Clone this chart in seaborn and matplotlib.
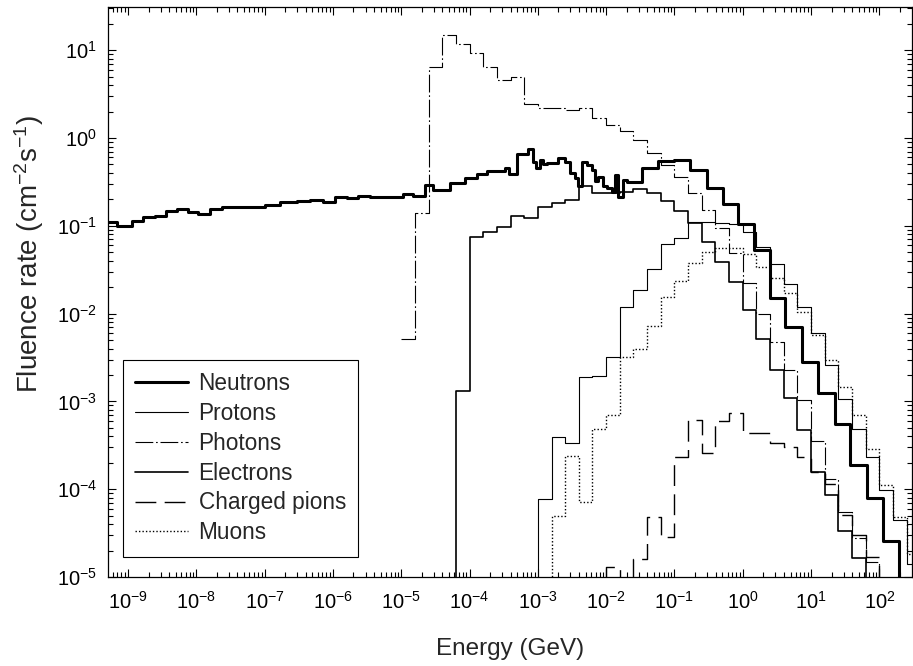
import numpy as np
import matplotlib
matplotlib.use("Agg")
import matplotlib.pyplot as plt
from matplotlib.ticker import LogLocator, LogFormatterSciNotation, NullFormatter
import seaborn as sns

# Neutrons have their own (uneven) bins, edges given as log10(E/GeV)
neutron_edges_exp = [-9.35, -9.16, -8.94, -8.78, -8.61, -8.44, -8.28, -8.12, -7.98, -7.80,
                     -7.62, -7.40, -6.99, -6.78, -6.53, -6.34, -6.15, -5.97, -5.79, -5.63,
                     -5.46, -4.97, -4.83, -4.65, -4.54, -4.29, -4.07, -3.89, -3.74, -3.48,
                     -3.42, -3.31, -3.14, -3.07, -3.03, -2.97, -2.92, -2.87, -2.78, -2.71,
                     -2.60, -2.53, -2.46, -2.41, -2.35, -2.28, -2.21, -2.16, -2.12, -2.05,
                     -1.99, -1.91, -1.87, -1.83, -1.75, -1.69, -1.47, -1.24, -1.01, -0.77,
                     -0.52, -0.29, -0.07, 0.17, 0.40, 0.62, 0.87, 1.10, 1.35, 1.57,
                     1.82, 2.05, 2.29]
neutron_flux = [0.111, 0.0996, 0.114, 0.127, 0.131, 0.148, 0.154, 0.145, 0.136, 0.157,
                0.163, 0.165, 0.174, 0.187, 0.19, 0.197, 0.187, 0.214, 0.206, 0.218,
                0.214, 0.23, 0.22, 0.289, 0.256, 0.31, 0.348, 0.389, 0.42, 0.452,
                0.389, 0.66, 0.75, 0.537, 0.452, 0.561, 0.51, 0.523, 0.515, 0.587,
                0.537, 0.396, 0.348, 0.283, 0.537, 0.49, 0.433, 0.32, 0.36, 0.283,
                0.267, 0.244, 0.38, 0.214, 0.333, 0.313, 0.459, 0.55, 0.561, 0.433,
                0.272, 0.177, 0.105, 0.053, 0.0151, 7.0e-3, 2.83e-3, 1.24e-3, 5.6e-4, 1.9e-4,
                7.9e-5, 2.6e-5]

# other particles: 5 bins per decade, bin k covers 10^(k/5) .. 10^((k+1)/5) GeV
proton_k0 = -15
proton_flux = [7.7e-5, 3.96e-4, 3.39e-4, 1.91e-3, 1.96e-3, 3.23e-3, 0.012, 0.0186, 0.0322, 0.0615,
               0.072, 0.111, 0.111, 0.107, 0.105, 0.0857, 0.058, 0.037, 0.022, 0.012,
               6.0e-3, 2.6e-3, 1.06e-3, 4.9e-4, 2.3e-4, 9.8e-5, 4.5e-5, 1.4e-5]

photon_k0 = -25
photon_flux = [5.1e-3, 0.139, 6.5, 14.9, 11.8, 9.4, 6.5, 4.6, 4.9, 2.44,
               2.2, 2.2, 2.1, 2.2, 1.7, 1.4, 1.2, 0.94, 0.68, 0.49,
               0.36, 0.234, 0.151, 0.095, 0.0486, 0.0221, 0.0100, 4.8e-3, 2.28e-3, 1.04e-3,
               3.5e-4, 1.3e-4, 5.5e-5, 2.8e-5, 1.5e-5]

electron_k0 = -21
electron_flux = [1.3e-3, 0.0736, 0.084, 0.096, 0.130, 0.122, 0.165, 0.180, 0.197, 0.284,
                 0.238, 0.238, 0.244, 0.262, 0.239, 0.191, 0.149, 0.107, 0.066, 0.039,
                 0.0231, 0.011, 5.2e-3, 2.28e-3, 1.08e-3, 4.7e-4, 1.58e-4, 8.6e-5, 3.3e-5, 1.63e-5]

pion_k0 = -10
pion_flux = [1.31e-5, 0, 1.59e-5, 4.87e-5, 2.87e-5, 2.34e-4, 6.14e-4, 2.6e-4, 6.0e-4, 7.3e-4,
             4.4e-4, 4.4e-4, 3.39e-4, 3.05e-4, 2.31e-4, 1.58e-4, 1.15e-4, 5.1e-5, 3.0e-5, 1.7e-5]

muon_k0 = -14
muon_flux = [4.9e-5, 2.39e-4, 7.2e-5, 4.8e-4, 7.0e-4, 3.18e-3, 3.95e-3, 7.3e-3, 0.0155, 0.0237,
             0.0374, 0.0507, 0.0555, 0.0555, 0.0473, 0.0342, 0.0252, 0.017, 0.0105, 5.7e-3,
             3.0e-3, 1.47e-3, 7.0e-4, 2.9e-4, 1.12e-4, 4.8e-5, 1.83e-5]

x_major = [1e-9, 1e-8, 1e-7, 1e-6, 1e-5, 1e-4, 1e-3, 1e-2, 1e-1, 1e0, 1e1, 1e2]
y_major = [1e-5, 1e-4, 1e-3, 1e-2, 1e-1, 1e0, 1e1]

FLOOR = 1e-8  # below the axis, used for the drops to the bottom


def grid_edges(k0, n):
    return 10.0 ** (np.arange(k0, k0 + n + 1) / 5.0)


def step_xy(edges, flux, rise):
    flux = [f if f > 0 else FLOOR for f in flux]
    x = list(edges) + [edges[-1]]
    y = flux + [flux[-1], FLOOR]
    if rise:
        x = [edges[0]] + x
        y = [FLOOR] + y
    return x, y


sns.set_theme(style="ticks")
plt.rcParams['font.family'] = ['Liberation Sans', 'DejaVu Sans']
plt.rcParams['mathtext.default'] = 'regular'
plt.rcParams['axes.unicode_minus'] = False

fig = plt.figure(figsize=(9.13, 6.66), dpi=100)
ax = fig.add_axes([0.1183, 0.1336, 0.8801, 0.8559])

series = [
    ("Neutrons", 10.0 ** np.array(neutron_edges_exp), neutron_flux, False, dict(lw=2.2, linestyle='-')),
    ("Protons", grid_edges(proton_k0, len(proton_flux)), proton_flux, True, dict(lw=0.8, linestyle='-')),
    ("Photons", grid_edges(photon_k0, len(photon_flux)), photon_flux, False,
     dict(lw=0.8, linestyle=(0, (16, 2.5, 1.5, 2.5)))),
    ("Electrons", grid_edges(electron_k0, len(electron_flux)), electron_flux, True, dict(lw=1.2, linestyle='-')),
    ("Charged pions", grid_edges(pion_k0, len(pion_flux)), pion_flux, True,
     dict(lw=1.0, linestyle=(0, (15, 6)))),
    ("Muons", grid_edges(muon_k0, len(muon_flux)), muon_flux, True, dict(lw=1.0, linestyle=(0, (1, 1.5)))),
]

handles = []
for name, edges, flux, rise, style in series:
    x, y = step_xy(edges, flux, rise)
    sns.lineplot(x=x, y=y, ax=ax, color='black', drawstyle='steps-post',
                 estimator=None, sort=False, label=name, **style)
    handles.append(ax.lines[-1])

ax.set_xscale('log')
ax.set_yscale('log')
ax.set_xticks(x_major)
ax.set_yticks(y_major)
ax.set_xlim(10 ** -9.293, 10 ** 2.471)
ax.set_ylim(1e-5, 10 ** 1.492)

ax.xaxis.set_minor_locator(LogLocator(base=10, subs=np.arange(2, 10), numticks=30))
ax.yaxis.set_minor_locator(LogLocator(base=10, subs=np.arange(2, 10), numticks=30))
ax.xaxis.set_major_formatter(LogFormatterSciNotation())
ax.yaxis.set_major_formatter(LogFormatterSciNotation())
ax.xaxis.set_minor_formatter(NullFormatter())
ax.yaxis.set_minor_formatter(NullFormatter())

ax.tick_params(which='both', direction='in', top=True, right=True, colors='black', width=0.8)
ax.tick_params(which='major', length=6, labelsize=14.5)
ax.tick_params(axis='x', which='major', pad=10)
ax.tick_params(axis='y', which='major', pad=8)
ax.tick_params(which='minor', length=3.5)
for sp in ax.spines.values():
    sp.set_color('black')
    sp.set_linewidth(0.9)

ax.set_xlabel('Energy (GeV)', fontsize=17.5, labelpad=18)
ax.set_ylabel('Fluence rate (cm$^{-2}$s$^{-1}$)', fontsize=20)
ax.yaxis.set_label_coords(-0.077, 0.5675)

leg = ax.legend(handles, [s[0] for s in series], loc='lower left', bbox_to_anchor=(0.0183, 0.0356),
                fontsize=16.3, frameon=True, fancybox=False, edgecolor='black', framealpha=1,
                borderaxespad=0, handlelength=2.35, handletextpad=0.45, labelspacing=0.3,
                borderpad=0.55)
leg.get_frame().set_linewidth(0.8)

fig.savefig('out.png', dpi=100)
